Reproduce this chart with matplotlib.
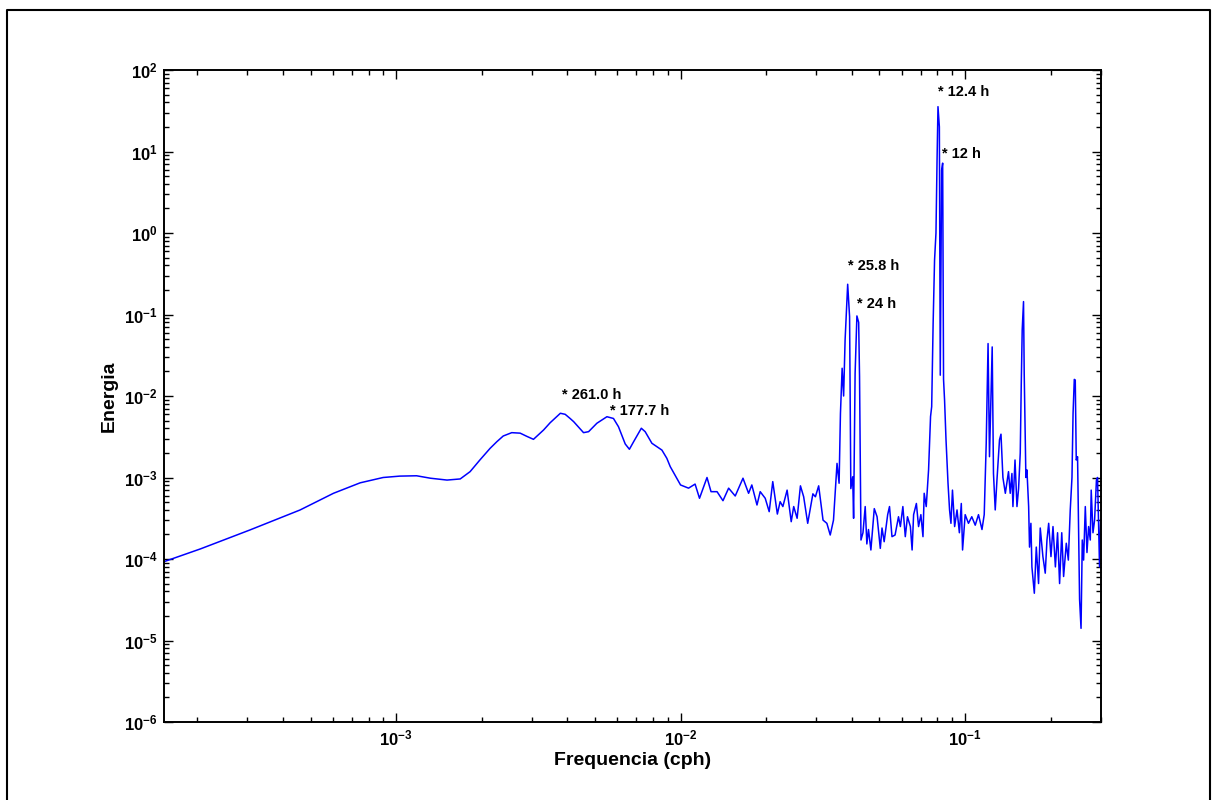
import numpy as np
import matplotlib
matplotlib.use("Agg")
import matplotlib.pyplot as plt
from matplotlib.ticker import LogLocator, NullFormatter, FixedLocator
from matplotlib.lines import Line2D

plt.rcParams['font.family'] = ['Liberation Sans', 'DejaVu Sans']
plt.rcParams['font.weight'] = 'bold'
plt.rcParams['mathtext.fontset'] = 'custom'
plt.rcParams['mathtext.bf'] = 'Liberation Sans:bold'
plt.rcParams['mathtext.rm'] = 'Liberation Sans:bold'
plt.rcParams['mathtext.default'] = 'bf'

# frequency (cph) and spectral energy
freq = [1.53e-4, 2.05e-4, 3.06e-4, 4.59e-4, 6.02e-4, 7.47e-4, 9.0e-4, 1.03e-3, 1.18e-3,
        1.32e-3, 1.51e-3, 1.68e-3, 1.82e-3, 1.97e-3, 2.14e-3, 2.26e-3, 2.38e-3, 2.55e-3,
        2.73e-3, 2.88e-3, 3.04e-3, 3.30e-3, 3.48e-3, 3.78e-3, 3.93e-3, 4.09e-3, 4.21e-3,
        4.56e-3, 4.75e-3, 4.94e-3, 5.08e-3, 5.51e-3, 5.81e-3, 6.05e-3, 6.21e-3, 6.39e-3,
        6.61e-3, 6.84e-3, 7.28e-3, 7.51e-3, 7.93e-3, 8.6e-3, 8.95e-3, 9.2e-3, 1.0e-2,
        1.067e-2, 1.125e-2,
        1.166e-2, 1.239e-2, 1.28e-2, 1.344e-2, 1.41e-2, 1.476e-2, 1.557e-2, 1.658e-2,
        1.735e-2, 1.781e-2, 1.857e-2, 1.906e-2, 1.985e-2, 2.05e-2, 2.11e-2, 2.19e-2,
        2.24e-2, 2.29e-2, 2.37e-2, 2.45e-2, 2.50e-2, 2.57e-2, 2.64e-2, 2.71e-2,
        2.80e-2, 2.92e-2, 2.98e-2, 3.06e-2, 3.17e-2, 3.27e-2, 3.36e-2, 3.45e-2,
        3.55e-2, 3.61e-2, 3.65e-2, 3.70e-2, 3.745e-2, 3.79e-2, 3.87e-2, 3.93e-2,
        3.97e-2, 4.03e-2, 4.06e-2, 4.11e-2, 4.17e-2, 4.23e-2, 4.26e-2, 4.31e-2,
        4.38e-2, 4.46e-2, 4.52e-2, 4.58e-2, 4.67e-2, 4.80e-2, 4.91e-2, 5.04e-2,
        5.11e-2, 5.2e-2, 5.35e-2, 5.43e-2, 5.54e-2, 5.68e-2, 5.84e-2, 5.93e-2,
        6.05e-2, 6.17e-2, 6.28e-2, 6.43e-2, 6.52e-2, 6.6e-2, 6.75e-2, 6.87e-2,
        7.0e-2, 7.12e-2, 7.19e-2, 7.31e-2, 7.45e-2, 7.57e-2, 7.64e-2, 7.73e-2,
        7.82e-2, 7.91e-2, 7.98e-2, 8.04e-2, 8.13e-2, 8.19e-2, 8.28e-2, 8.35e-2,
        8.41e-2, 8.48e-2, 8.58e-2, 8.72e-2, 8.83e-2, 8.93e-2, 9.04e-2, 9.2e-2,
        9.38e-2, 9.56e-2, 9.71e-2, 9.81e-2, 0.1002, 0.1029, 0.1057, 0.1087,
        0.1116, 0.1148, 0.1169, 0.1188, 0.1206, 0.122, 0.1235, 0.1247,
        0.126, 0.1278, 0.1296, 0.1323, 0.1339, 0.136, 0.1387, 0.1423,
        0.1443, 0.1463, 0.1475, 0.150, 0.1524, 0.1544, 0.1565, 0.1578,
        0.159, 0.1607, 0.1616, 0.1638, 0.1652, 0.1675, 0.1687, 0.1706,
        0.172, 0.1754, 0.1782, 0.1815, 0.184, 0.188, 0.1916, 0.1943,
        0.197, 0.2007, 0.204, 0.208, 0.2117, 0.2152, 0.219, 0.2223,
        0.2272, 0.231, 0.2346, 0.2379, 0.240, 0.2424, 0.2443, 0.2463,
        0.2489, 0.2509, 0.253, 0.256, 0.2586, 0.2614, 0.265, 0.2686,
        0.2722, 0.2759, 0.278, 0.282, 0.2857, 0.290, 0.2926, 0.295,
        0.2974, 0.300]

energia = [9.3e-5, 1.33e-4, 2.27e-4, 3.99e-4, 6.4e-4, 8.6e-4, 1.0e-3, 1.04e-3, 1.05e-3,
           9.8e-4, 9.3e-4, 9.6e-4, 1.18e-3, 1.64e-3, 2.28e-3, 2.75e-3, 3.23e-3, 3.55e-3,
           3.5e-3, 3.2e-3, 2.94e-3, 3.83e-3, 4.7e-3, 6.14e-3, 5.96e-3, 5.3e-3, 4.84e-3,
           3.55e-3, 3.65e-3, 4.2e-3, 4.63e-3, 5.57e-3, 5.3e-3, 4.2e-3, 3.32e-3, 2.58e-3,
           2.22e-3, 2.75e-3, 4.02e-3, 3.65e-3, 2.63e-3, 2.17e-3, 1.72e-3, 1.36e-3, 8.1e-4,
           7.4e-4, 8.3e-4,
           5.56e-4, 1.0e-3, 6.7e-4, 6.7e-4, 5.19e-4, 7.4e-4, 5.93e-4, 9.8e-4,
           6.4e-4, 8.1e-4, 4.6e-4, 6.7e-4, 5.56e-4, 3.81e-4, 8.9e-4, 3.56e-4,
           5.05e-4, 4.4e-4, 7.0e-4, 2.87e-4, 4.4e-4, 3.16e-4, 7.9e-4, 5.8e-4,
           2.74e-4, 6.3e-4, 5.8e-4, 7.9e-4, 3.0e-4, 2.74e-4, 1.97e-4, 3.0e-4,
           1.49e-3, 8.5e-4, 6.1e-3, 2.19e-2, 1.0e-2, 4.87e-2, 0.235, 0.094,
           7.3e-4, 1.02e-3, 3.16e-4, 1.9e-2, 0.096, 0.08, 1.74e-2, 1.71e-4,
           2.1e-4, 4.4e-4, 1.53e-4, 2.3e-4, 1.29e-4, 4.15e-4, 3.3e-4, 1.35e-4,
           2.4e-4, 1.63e-4, 3.5e-4, 4.4e-4, 1.88e-4, 1.97e-4, 3.3e-4, 2.5e-4,
           4.4e-4, 1.88e-4, 3.3e-4, 2.5e-4, 1.29e-4, 3.5e-4, 4.8e-4, 2.5e-4,
           3.5e-4, 1.88e-4, 6.4e-4, 4.4e-4, 1.24e-3, 5.6e-3, 7.4e-3, 7.8e-2,
           0.467, 1.0, 7.9, 35.5, 20.1, 1.8e-2, 5.9, 7.2,
           1.6e-2, 8.9e-3, 2.9e-3, 8.5e-4, 4.0e-4, 2.74e-4, 7.0e-4, 2.5e-4,
           4.0e-4, 2.1e-4, 4.8e-4, 1.29e-4, 3.5e-4, 2.74e-4, 3.3e-4, 2.6e-4,
           3.5e-4, 2.3e-4, 3.5e-4, 2.6e-3, 4.4e-2, 1.8e-3, 1.08e-2, 4.0e-2,
           1.12e-3, 4.0e-4, 9.3e-4, 2.9e-3, 3.4e-3, 1.0e-3, 6.4e-4, 1.18e-3,
           6.4e-4, 1.12e-3, 4.4e-4, 1.64e-3, 4.4e-4, 7.3e-4, 2.0e-3, 1.43e-2,
           6.5e-2, 0.144, 1.9e-2, 1.0e-3, 1.24e-3, 4.4e-4, 1.4e-4, 2.74e-4,
           8.0e-5, 3.8e-5, 1.4e-4, 5.0e-5, 2.4e-4, 1.07e-4, 6.7e-5, 1.71e-4,
           2.74e-4, 1.07e-4, 2.5e-4, 8.0e-5, 2.1e-4, 5.0e-5, 2.1e-4, 6.1e-5,
           1.56e-4, 9.7e-5, 4.0e-4, 1.0e-3, 6.1e-3, 1.6e-2, 1.57e-2, 1.64e-3,
           1.8e-3, 2.5e-4, 3.2e-5, 1.41e-5, 1.71e-4, 9.7e-5, 4.4e-4, 1.2e-4,
           2.5e-4, 1.71e-4, 7.0e-4, 2.1e-4, 3.0e-4, 9.3e-4, 1.0e-3, 3.0e-4,
           8.0e-5, 3.0e-4]

# labelled peaks: period text, period (h), energy where the label sits
peak_text = ['261.0', '177.7', '25.8', '24', '12.4', '12']
peak_period = [261.0, 177.7, 25.8, 24.0, 12.4, 12.0]
label_energy = [1.03e-2, 6.5e-3, 0.394, 0.135, 53.7, 9.4]

# decades shown on the axes
x_decades = [-3, -2, -1]
y_decades = [-6, -5, -4, -3, -2, -1, 0, 1, 2]

fig = plt.figure(figsize=(12.15, 8), dpi=100)
ax = fig.add_axes([0.1352, 0.0975, 0.7710, 0.8150])

ax.loglog(freq, energia, color='#0000ff', linewidth=1.1)

for txt, per, en in zip(peak_text, peak_period, label_energy):
    ax.text(1.0 / per, en, '* ' + txt + ' h', fontsize=10.5, fontweight='bold',
            ha='left', va='center')

ax.set_xlim(1.53e-4, 0.301)
ax.set_ylim(1e-6, 1e2)
ax.set_xticks([10.0 ** d for d in x_decades])
ax.set_yticks([10.0 ** d for d in y_decades])
ax.set_xticklabels([r'$10^{%d}$' % d for d in x_decades])
ax.set_yticklabels([r'$10^{%d}$' % d for d in y_decades])

xminor = [m * 10.0 ** d for d in range(-4, 0) for m in range(2, 10)]
yminor = [m * 10.0 ** d for d in range(-6, 2) for m in range(2, 10)]
ax.xaxis.set_minor_locator(FixedLocator([v for v in xminor if 1.53e-4 <= v <= 0.301]))
ax.yaxis.set_minor_locator(FixedLocator(yminor))
ax.xaxis.set_minor_formatter(NullFormatter())
ax.yaxis.set_minor_formatter(NullFormatter())

ax.tick_params(which='both', direction='in', top=True, right=True, width=1, labelsize=12)
ax.tick_params(which='major', length=6.5, pad=5)
ax.tick_params(which='minor', length=3.6)
for s in ax.spines.values():
    s.set_linewidth(1.4)

ax.set_xlabel('Frequencia (cph)', fontsize=14, fontweight='bold', labelpad=2)
ax.set_ylabel('Energia', fontsize=14, fontweight='bold', labelpad=4)

# frame around the whole figure (left, top, right)
fx0, fx1, fy1 = 7 / 1215, 1210 / 1215, 1 - 10 / 800
fig.add_artist(Line2D([fx0, fx0, fx1, fx1], [0.0, fy1, fy1, 0.0],
                      transform=fig.transFigure, color='black', linewidth=1.5))

fig.savefig('out.png', dpi=100)
